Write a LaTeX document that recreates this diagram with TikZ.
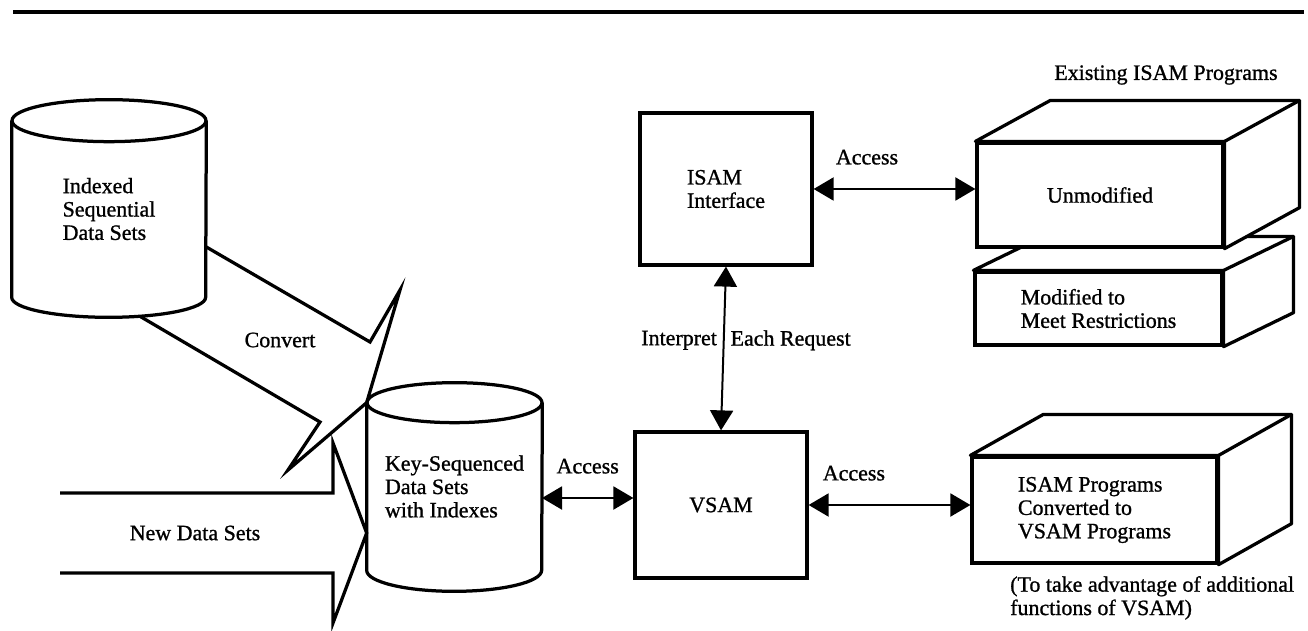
\documentclass[tikz,border=0pt]{standalone}
\usepackage{fontspec}
\setmainfont[FakeBold=1]{Liberation Serif}
\usetikzlibrary{arrows.meta, positioning}

\begin{document}
\begin{tikzpicture}[
    x=0.02cm,
    y=-0.02cm,
    font=\fontsize{12.5}{13.3}\selectfont,
    thick line/.style={line width=0.065cm},
    box/.style={draw, thick line, fill=white, align=left},
    face/.style={thick line, fill=white, line join=round},
    acc/.style={{Triangle[length=0.4cm, width=0.46cm]}-{Triangle[length=0.4cm, width=0.46cm]}, line width=0.04cm},
]

    \useasboundingbox (0,0) rectangle (1308,631);
    \draw[thick line] (13,12) -- (1304,12);

    % data sets
    \node[minimum width=3.88cm, minimum height=3.52cm, align=left] (isds) at (109,209) {Indexed\\Sequential\\Data Sets};
    \draw[thick line] (isds.north west) -- (isds.south west) arc (180:360:1.94cm and 0.4cm) -- (isds.north east);
    \draw[thick line] (isds.north) ellipse [x radius=1.94cm, y radius=0.42cm];

    \node[minimum width=3.5cm, minimum height=3.34cm, align=left] (ksds) at (454.5,486.5) {Key-Sequenced\\Data Sets\\with Indexes};
    \draw[thick line] (ksds.north west) -- (ksds.south west) arc (180:360:1.75cm and 0.42cm) -- (ksds.north east);
    \draw[thick line] (ksds.north) ellipse [x radius=1.75cm, y radius=0.4cm];

    % convert and new data sets
    \node (lconv) at (280,340) {Convert};
    \draw[thick line] (isds.south) ++(31,19) -- (320,422) -- (288,470) -- (ksds.north west) -- (400,290) -- (370,342) -- (isds.east |- 0,247);

    \node (lnew) at (195,533) {New Data Sets};
    \draw[thick line] (60,493) -- (333,493) -- (333,443) -- (lnew -| ksds.west) -- (333,623) -- (333,573) -- (60,573);

    % access methods
    \node[box, minimum width=3.44cm, minimum height=3.04cm] (isam) at (726,189) {ISAM\\Interface};
    \node[box, minimum width=3.44cm, minimum height=2.92cm] (vsam) at (721,505) {VSAM};

    % programs
    \node (exist) at (1166,75) {Existing ISAM Programs};

    \node[box, minimum width=4.94cm, minimum height=1.46cm] (modif) at (1098.5,308.5) {Modified to\\Meet Restrictions};
    \draw[face] (modif.north west) -- ++(70,-34) -- ([shift={(70,-34)}]modif.north east) -- ([shift={(70,-34)}]modif.south east) -- (modif.south east) -- (modif.north east) -- cycle;
    \draw[thick line] (modif.north east) -- ++(70,-34);

    \node[box, minimum width=4.92cm, minimum height=2.08cm] (unmod) at (1100,195) {Unmodified};
    \draw[face] (unmod.north west) -- ++(75,-41) -- ([shift={(75,-41)}]unmod.north east) -- ([shift={(75,-41)}]unmod.south east) -- (unmod.south east) -- (unmod.north east) -- cycle;
    \draw[thick line] (unmod.north east) -- ++(75,-41);

    \node[box, minimum width=4.9cm, minimum height=2.12cm] (conv) at (1094.5,510) {ISAM Programs\\Converted to\\VSAM Programs};
    \draw[face] (conv.north west) -- ++(73,-41) -- ([shift={(73,-41)}]conv.north east) -- ([shift={(73,-41)}]conv.south east) -- (conv.south east) -- (conv.north east) -- cycle;
    \draw[thick line] (conv.north east) -- ++(73,-41);

    \node[align=left, anchor=north west] (note) at (1004,570) {(To take advantage of additional\\functions of VSAM)};

    % connectors
    \coordinate (kacc) at (542,498);
    \draw[acc] (kacc) -- node[above=10pt] (acck) {Access} (kacc -| vsam.west);
    \draw[acc] (isam.south) -- node[pos=.45, left] (linter) {Interpret} node[pos=.45, right] (leach) {Each Request} (vsam.north);
    \draw[acc] (isam.east) -- node[pos=.33, above=10pt] (accu) {Access} (isam.east -| unmod.west);
    \draw[acc] (vsam.east) -- node[pos=.28, above=10pt] (accc) {Access} (vsam.east -| conv.west);

\end{tikzpicture}
\end{document}
